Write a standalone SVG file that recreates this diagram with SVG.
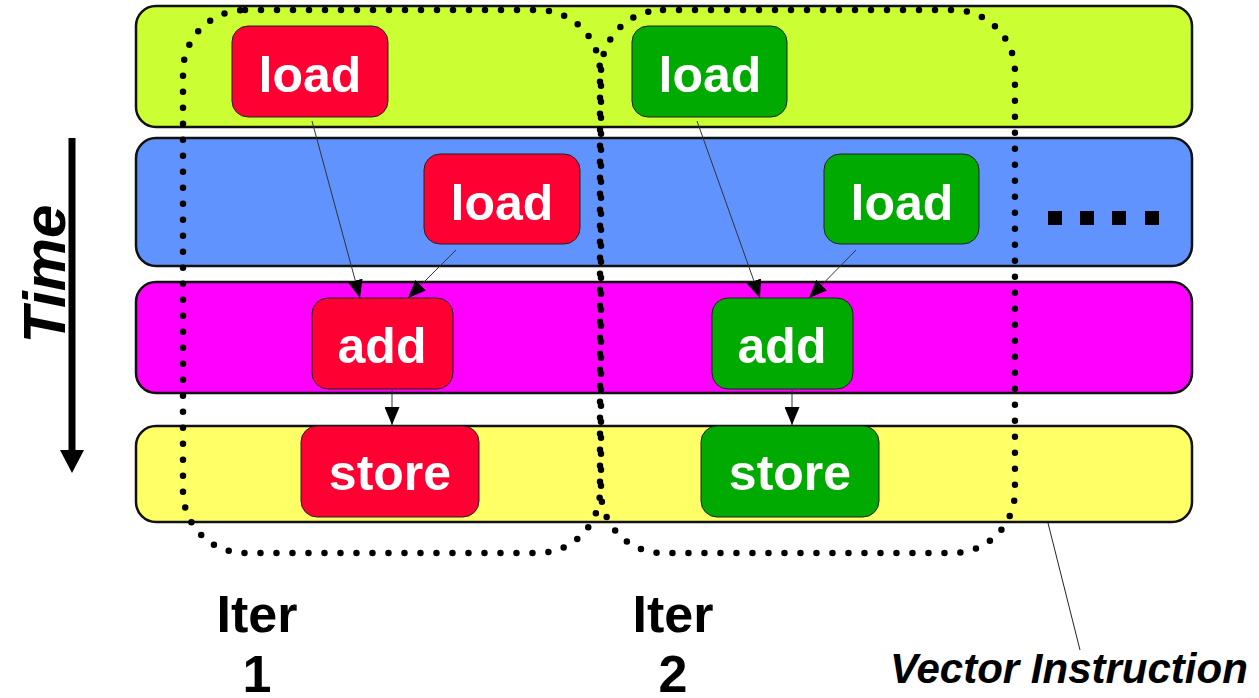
<svg xmlns="http://www.w3.org/2000/svg" width="1259" height="698" viewBox="0 0 1259 698">
  <style>
    .lane { stroke: #111; stroke-width: 2.5; }
    .node { stroke: #222; stroke-width: 1; }
    .red { fill: #FF0033; }
    .green { fill: #00AA00; }
    .label { font-family: "Liberation Sans", Arial, sans-serif; font-weight: bold; font-size: 50px; fill: #fff; text-anchor: middle; }
    .iter { font-family: "Liberation Sans", Arial, sans-serif; font-weight: bold; font-size: 52px; fill: #000; text-anchor: middle; }
    .group { fill: none; stroke: #000; stroke-width: 6.5; stroke-dasharray: 0 16; stroke-linecap: round; }
    .edge { fill: none; stroke: #333; stroke-width: 1; marker-end: url(#head); }
  </style>
  <defs>
    <marker id="head" markerUnits="userSpaceOnUse" markerWidth="18" markerHeight="15" refX="18" refY="7.5" orient="auto">
      <path d="M0,0 L18,7.5 L0,15 z" fill="#000"/>
    </marker>
  </defs>

  <rect width="1259" height="698" fill="#fff"/>

  <!-- pipeline stages -->
  <g id="stages">
    <rect id="stage-load1" class="lane" x="136" y="6" width="1056" height="121" rx="20" fill="#CCFF33"/>
    <rect id="stage-load2" class="lane" x="136" y="138" width="1056" height="128" rx="20" fill="#6193FF"/>
    <rect id="stage-add" class="lane" x="136" y="282" width="1056" height="111" rx="20" fill="#FF00FF"/>
    <rect id="stage-store" class="lane" x="136" y="426" width="1056" height="96" rx="20" fill="#FFFF66"/>
  </g>

  <!-- time axis -->
  <g id="time-axis">
    <line x1="72" y1="138" x2="72" y2="452" stroke="#000" stroke-width="7"/>
    <polygon points="60,450 84,450 72,473" fill="#000"/>
    <text transform="translate(65,274) rotate(-90)" text-anchor="middle" font-family="'Liberation Sans', Arial, sans-serif" font-weight="bold" font-style="italic" font-size="60">Time</text>
  </g>

  <!-- continuation marks -->
  <g id="more">
    <rect x="1048" y="211" width="14" height="14" fill="#000"/>
    <rect x="1080" y="211" width="14" height="14" fill="#000"/>
    <rect x="1112" y="211" width="14" height="14" fill="#000"/>
    <rect x="1145" y="211" width="14" height="14" fill="#000"/>
  </g>

  <!-- iteration 1 -->
  <g id="iter1-load1">
    <rect class="node red" x="232" y="26" width="156" height="91" rx="16"/>
    <text class="label" x="310" y="92">load</text>
  </g>
  <g id="iter1-load2">
    <rect class="node red" x="424" y="154" width="156" height="90" rx="16"/>
    <text class="label" x="502" y="220">load</text>
  </g>
  <g id="iter1-add">
    <rect class="node red" x="312" y="298" width="141" height="91" rx="16"/>
    <text class="label" x="382" y="363">add</text>
  </g>
  <g id="iter1-store">
    <rect class="node red" x="301" y="426" width="178" height="91" rx="16"/>
    <text class="label" x="390" y="490">store</text>
  </g>

  <!-- iteration 2 -->
  <g id="iter2-load1">
    <rect class="node green" x="632" y="26" width="155" height="91" rx="16"/>
    <text class="label" x="710" y="92">load</text>
  </g>
  <g id="iter2-load2">
    <rect class="node green" x="824" y="154" width="155" height="90" rx="16"/>
    <text class="label" x="902" y="220">load</text>
  </g>
  <g id="iter2-add">
    <rect class="node green" x="712" y="298" width="141" height="91" rx="16"/>
    <text class="label" x="782" y="363">add</text>
  </g>
  <g id="iter2-store">
    <rect class="node green" x="701" y="426" width="178" height="91" rx="16"/>
    <text class="label" x="790" y="490">store</text>
  </g>

  <!-- dependencies -->
  <g id="connectors">
    <line class="edge" x1="312" y1="121" x2="360" y2="298"/>
    <line class="edge" x1="456" y1="250" x2="408" y2="298"/>
    <line class="edge" x1="392" y1="390" x2="392" y2="425" stroke="#888" stroke-width="1.5"/>
    <line class="edge" x1="697" y1="121" x2="760" y2="298"/>
    <line class="edge" x1="856" y1="250" x2="809" y2="298"/>
    <line class="edge" x1="792" y1="390" x2="792" y2="425" stroke="#888" stroke-width="1.5"/>
    <line x1="1048" y1="523" x2="1080" y2="650" stroke="#222" stroke-width="1"/>
  </g>

  <!-- iteration groupings -->
  <g id="iter1-group">
    <rect class="group" x="183" y="10" width="417" height="543" rx="62"/>
    <text class="iter" x="257" y="632">Iter</text>
    <text class="iter" x="257" y="692">1</text>
  </g>
  <g id="iter2-group">
    <rect class="group" x="601" y="10" width="414" height="543" rx="62"/>
    <text class="iter" x="673" y="632">Iter</text>
    <text class="iter" x="673" y="692">2</text>
  </g>

  <g id="vector-instruction">
    <text x="890" y="683" font-family="'Liberation Sans', Arial, sans-serif" font-weight="bold" font-style="italic" font-size="42">Vector Instruction</text>
  </g>
</svg>
